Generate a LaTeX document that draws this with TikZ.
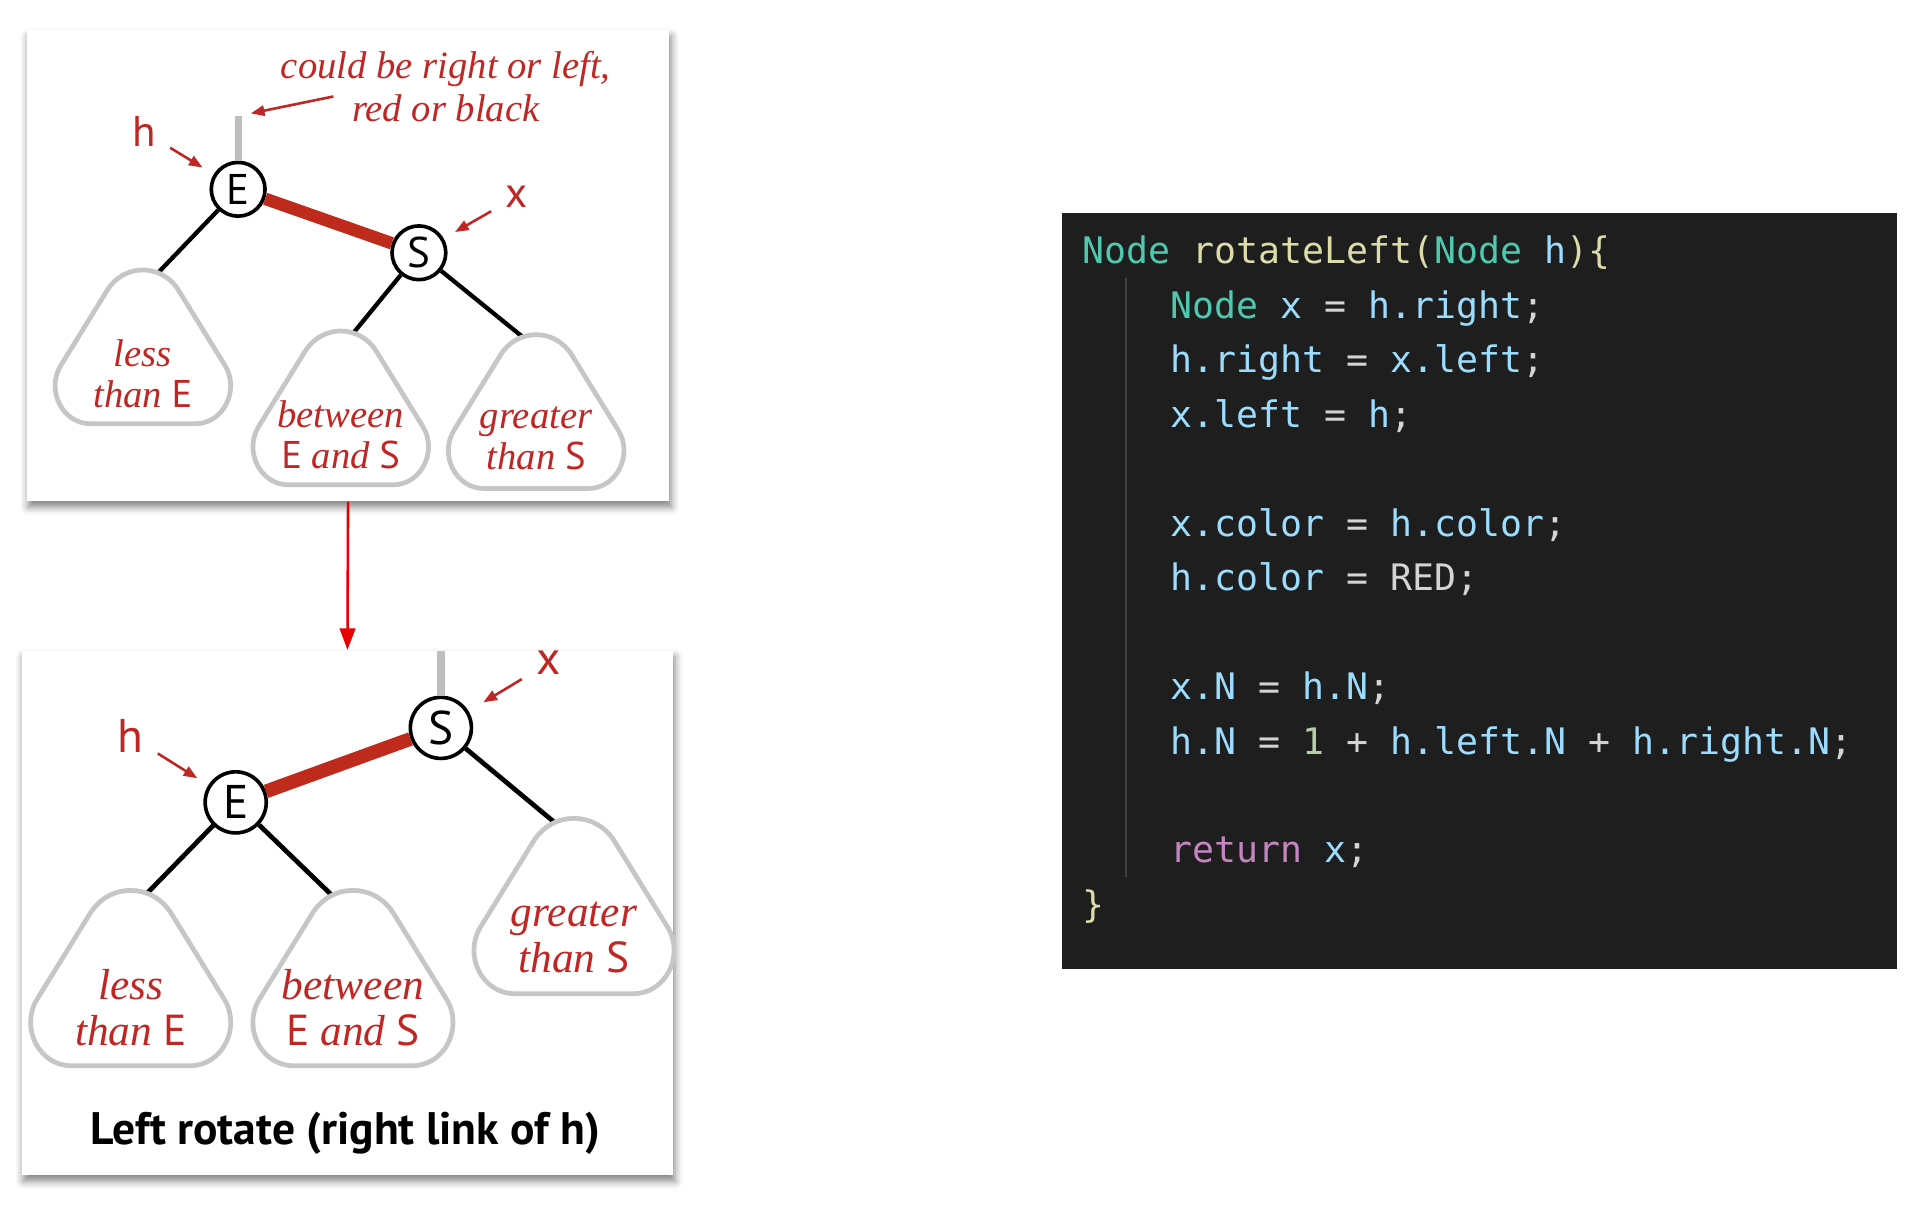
\documentclass[tikz,border=0pt]{standalone}
\usepackage{fontspec}
\setmainfont{Liberation Serif}
\setsansfont{PT Sans}
\setmonofont{DejaVu Sans Mono}
\usetikzlibrary{arrows.meta, shadows.blur}

\definecolor{bookred}{RGB}{192,38,36}
\definecolor{linkred}{RGB}{190,42,28}
\definecolor{flowred}{RGB}{232,0,0}
\definecolor{treegray}{RGB}{198,198,198}
\definecolor{stubgray}{RGB}{188,190,192}
\definecolor{codebg}{RGB}{30,30,30}
\definecolor{codetext}{RGB}{212,212,212}
\definecolor{codetype}{RGB}{78,201,176}
\definecolor{codefun}{RGB}{220,220,170}
\definecolor{codevar}{RGB}{156,220,254}
\definecolor{codenum}{RGB}{181,206,168}
\definecolor{codeflow}{RGB}{197,134,192}
\definecolor{codeguide}{RGB}{64,64,64}

\newcommand{\ctype}[1]{\textcolor{codetype}{#1}}
\newcommand{\cfun}[1]{\textcolor{codefun}{#1}}
\newcommand{\cvar}[1]{\textcolor{codevar}{#1}}
\newcommand{\cnum}[1]{\textcolor{codenum}{#1}}
\newcommand{\cflow}[1]{\textcolor{codeflow}{#1}}
\newcommand{\cbr}[1]{\textcolor{codefun}{#1}}
\newcommand{\keyl}[1]{{\upshape\sffamily #1}}

\tikzset{
  panel/.style={fill=white, inner sep=0pt, blur shadow={shadow xshift=0.4pt, shadow yshift=-1.4pt, shadow blur radius=1.8pt, shadow opacity=50}},
  keynode/.style={circle, draw, line width=0.85pt, fill=white, inner sep=0pt},
  keyA/.style={keynode, minimum size=0.44cm, font=\sffamily\fontsize{10}{11}\selectfont},
  keyB/.style={keynode, minimum size=0.5cm, font=\sffamily\fontsize{11}{12}\selectfont},
  treelink/.style={line width=1pt},
  redlink/.style={linkred, line width=2.9pt},
  stub/.style={stubgray, line width=1.7pt},
  treeline/.style={treegray, line width=1.1pt, fill=white},
  treetextA/.style={bookred, align=center, inner sep=0pt, font=\itshape\fontsize{9}{9.4}\selectfont},
  treetextB/.style={bookred, align=center, inner sep=0pt, font=\itshape\fontsize{10.1}{10.7}\selectfont},
  noteA/.style={bookred, align=center, inner sep=0pt, font=\itshape\fontsize{9}{10}\selectfont},
  tagA/.style={bookred, inner sep=1pt, font=\sffamily\fontsize{10}{12}\selectfont},
  tagB/.style={bookred, inner sep=1pt, font=\sffamily\fontsize{11}{13}\selectfont},
  pointer/.style={bookred, line width=0.6pt, -{Triangle[length=3.2pt, width=2.4pt]}, shorten <=2.5pt, shorten >=3pt},
  flow/.style={flowred, line width=0.6pt, -{Triangle[length=5pt, width=3.6pt]}},
  codeline/.style={anchor=base west, inner sep=0pt, text=codetext, font=\ttfamily\fontsize{8.5}{10}\selectfont},
  subtree/.pic={
    \draw[treeline] (-29.2,16.7) .. controls (-15.5,-5.5) and (15.5,-5.5) .. (29.2,16.7)
      -- (67.2,78.2) .. controls (79.7,98.6) and (65.8,126) .. (42.8,126)
      -- (-42.8,126) .. controls (-65.8,126) and (-79.7,98.6) .. (-67.2,78.2) -- cycle;
  }
}

\begin{document}
\begin{tikzpicture}[x=0.01cm, y=-0.01cm]
  \useasboundingbox (0,0) rectangle (1568,989);

  % the two panels
  \node[panel, minimum width=5.26cm, minimum height=3.85cm] (panelA) at (285,217.5) {};
  \node[panel, minimum width=5.33cm, minimum height=4.29cm] (panelB) at (284.5,747.5) {};
  \draw[flow] (panelA.south) -- (panelB.north);

  % before the rotation
  \node[keyA] (E1) at (195,155) {E};
  \node[keyA] (S1) at (343,207) {S};
  \coordinate (stub1) at (195,95);
  \coordinate (lessTip1) at (125,228);
  \coordinate (betweenTip1) at (285,278);
  \coordinate (greaterTip1) at (433,280);
  \draw[stub] (stub1) -- (E1);
  \draw[redlink] (E1) -- (S1);
  \draw[treelink] (E1) -- (lessTip1);
  \draw[treelink] (S1) -- (betweenTip1);
  \draw[treelink] (S1) -- (greaterTip1);
  \pic (less1) at (117,221) {subtree};
  \pic (between1) at (279,271) {subtree};
  \pic (greater1) at (439,274) {subtree};
  \node[treetextA] (lessText1) at (117,306) {less\\than \keyl{E}};
  \node[treetextA] (betweenText1) at (279,356) {between\\\keyl{E} and \keyl{S}};
  \node[treetextA] (greaterText1) at (439,359) {greater\\than \keyl{S}};
  \node[tagA] (h1) at (118,108) {h};
  \node[tagA] (x1) at (423,161) {x};
  \draw[pointer] (h1) -- (E1);
  \draw[pointer] (x1) -- (S1);
  \node[noteA] (note1) at (365,71) {could be right or left,\\red or black};
  \coordinate (noteTail1) at (273,79);
  \draw[pointer, shorten <=0pt] (noteTail1) -- (stub1);

  % after the rotation
  \node[keyB] (E2) at (193,657) {E};
  \node[keyB] (S2) at (361,596) {S};
  \coordinate (stub2) at (361,533);
  \coordinate (lessTip2) at (115,737);
  \coordinate (betweenTip2) at (280,741);
  \coordinate (greaterTip2) at (462,680);
  \draw[stub] (stub2) -- (S2);
  \draw[redlink, line width=3.2pt] (E2) -- (S2);
  \draw[treelink, line width=1.1pt] (E2) -- (lessTip2);
  \draw[treelink, line width=1.1pt] (E2) -- (betweenTip2);
  \draw[treelink, line width=1.1pt] (S2) -- (greaterTip2);
  \pic[scale=1.14] (less2) at (107,729) {subtree};
  \pic[scale=1.14] (between2) at (289,729) {subtree};
  \pic[scale=1.14] (greater2) at (470,670) {subtree};
  \node[treetextB] (lessText2) at (107,825) {less\\than \keyl{E}};
  \node[treetextB] (betweenText2) at (289,825) {between\\\keyl{E} and \keyl{S}};
  \node[treetextB] (greaterText2) at (470,768) {greater\\than \keyl{S}};
  \node[tagB] (h2) at (107,603) {h};
  \node[tagB] (x2) at (449,543) {x};
  \draw[pointer] (h2) -- (E2);
  \draw[pointer, shorten >=4pt] (x2) -- (S2);
  \node[font=\sffamily\bfseries\fontsize{10.6}{12}\selectfont, inner sep=0pt] (caption) at (283,928) {Left rotate (right link of h)};

  % code
  \node[fill=codebg, inner sep=0pt, minimum width=6.83cm, minimum height=6.18cm] (codebox) at (1211.5,484) {};
  \draw[codeguide, line width=0.4pt] (922,228) -- (922,718);
  \node[codeline] (code0) at (886,216) {\ctype{Node} \cfun{rotateLeft}\cbr{(}\ctype{Node} \cvar{h}\cbr{)\{}};
  \node[codeline] (code1) at (958,260.6) {\ctype{Node} \cvar{x} = \cvar{h.right};};
  \node[codeline] (code2) at (958,305.2) {\cvar{h.right} = \cvar{x.left};};
  \node[codeline] (code3) at (958,349.8) {\cvar{x.left} = \cvar{h};};
  \node[codeline] (code5) at (958,439) {\cvar{x.color} = \cvar{h.color};};
  \node[codeline] (code6) at (958,483.6) {\cvar{h.color} = RED;};
  \node[codeline] (code8) at (958,572.8) {\cvar{x.N} = \cvar{h.N};};
  \node[codeline] (code9) at (958,617.4) {\cvar{h.N} = \cnum{1} + \cvar{h.left.N} + \cvar{h.right.N};};
  \node[codeline] (code11) at (958,706.6) {\cflow{return} \cvar{x};};
  \node[codeline] (code12) at (886,751.2) {\cbr{\}}};
\end{tikzpicture}
\end{document}
